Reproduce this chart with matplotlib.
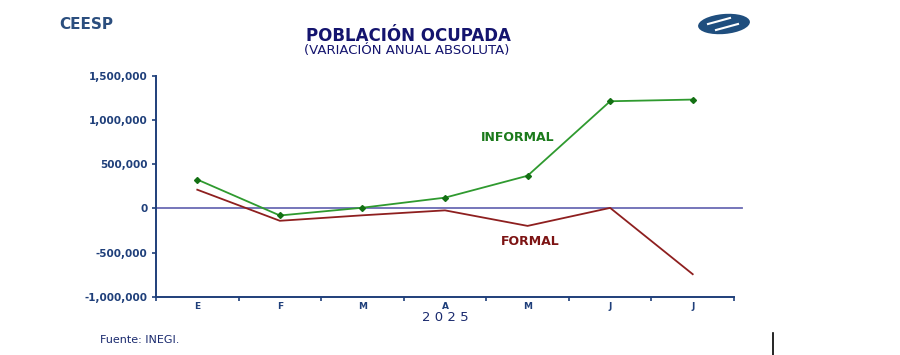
import numpy as np
import matplotlib
matplotlib.use("Agg")
import matplotlib.pyplot as plt
from matplotlib.patches import Ellipse
from matplotlib.lines import Line2D
from matplotlib.ticker import FuncFormatter, FixedLocator

# data (personas, variacion anual absoluta)
months = ["E", "F", "M", "A", "M", "J", "J"]
informal = [327000, -80000, 8000, 122000, 370000, 1214000, 1233000]
formal = [212000, -140000, -78000, -22000, -198000, 6000, -745000]
year_label = "2 0 2 5"

navy = "#1a2a6e"
axis_blue = "#1f3f7a"
green_line = "#2f9a2f"
green_mark = "#137013"
red_line = "#8e1f1f"

plt.rcParams['font.family'] = ['DejaVu Sans']

W, H = 900, 355
fig = plt.figure(figsize=(W / 100, H / 100), dpi=100)
fig.patch.set_facecolor("white")

x0, x1 = 156, 734
y_top, y_bot = 76, 296.7
ax = fig.add_axes([x0 / W, 1 - y_bot / H, (x1 - x0) / W, (y_bot - y_top) / H])

x = np.arange(len(months))
ax.plot(x, informal, color=green_line, lw=1.3, marker="D", ms=3,
        mfc=green_mark, mec=green_mark, zorder=3)
ax.plot(x, formal, color=red_line, lw=1.3, zorder=3)

ax.set_xlim(-0.5, len(months) - 0.5)
ax.set_ylim(-1000000, 1500000)

# zero line runs a bit past the axis end
ax.axhline(0, xmin=0, xmax=1.014, color="#6a6ab4", lw=1.3, clip_on=False, zorder=2)

for side in ["top", "right"]:
    ax.spines[side].set_visible(False)
for side in ["left", "bottom"]:
    ax.spines[side].set_color(axis_blue)
    ax.spines[side].set_linewidth(1.4)

ax.set_yticks([-1000000, -500000, 0, 500000, 1000000, 1500000])
ax.yaxis.set_major_formatter(FuncFormatter(lambda v, p: f"{int(v):,}"))
ax.tick_params(axis="y", colors=axis_blue, length=3, width=1.2, pad=3)
for lab in ax.get_yticklabels():
    lab.set_fontweight("bold")
    lab.set_fontsize(7.5)
    lab.set_color(axis_blue)

# month labels centered, tick marks at category boundaries
ax.set_xticks(x)
ax.set_xticklabels(months, fontsize=6.5, fontweight="bold", color=axis_blue)
ax.tick_params(axis="x", which="major", length=0, pad=4)
ax.xaxis.set_minor_locator(FixedLocator(np.arange(-0.5, len(months), 1.0)))
ax.tick_params(axis="x", which="minor", length=3, width=1.2, color=axis_blue)

ax.text(3, -1240000, year_label, ha="center", va="center", fontsize=9.5,
        color=navy)

ax.text(3.88, 805000, "INFORMAL", ha="center", va="center", fontsize=9,
        fontweight="bold", color="#1b7a1b")
ax.text(4.03, -375000, "FORMAL", ha="center", va="center", fontsize=9,
        fontweight="bold", color="#7d1414")

# header texts
fig.text(59 / W, 1 - 29 / H, "CEESP", ha="left", va="baseline", fontsize=11,
         fontweight="bold", color="#2b4e7e")
fig.text(408 / W, 1 - 41 / H, "POBLACIÓN OCUPADA", ha="center", va="baseline",
         fontsize=12, fontweight="bold", color="#14146e")
fig.text(407 / W, 1 - 54 / H, "(VARIACIÓN ANUAL ABSOLUTA)", ha="center",
         va="baseline", fontsize=9.5, color="#14146e")
fig.text(100 / W, 1 - 340 / H, "Fuente: INEGI.", ha="left", va="center",
         fontsize=8, color=navy)

# logo: blue ellipse with white stripes
logo = Ellipse((724, H - 24), 52, 20, angle=5, transform=None,
               facecolor="#1f4e7e", edgecolor="none")
fig.add_artist(logo)
for dx, dy in ((-4, 3), (4, -3)):
    fig.add_artist(Line2D([(712 + dx) / W, (734 + dx) / W],
                          [(H - 27 + dy) / H, (H - 21 + dy) / H],
                          color="white", lw=1.5, transform=fig.transFigure))

# stray vertical mark near lower right
fig.add_artist(Line2D([773 / W, 773 / W], [0, 1 - 333 / H], color="black",
                      lw=1.2, transform=fig.transFigure))

fig.savefig("out.png", dpi=100, facecolor="white")
